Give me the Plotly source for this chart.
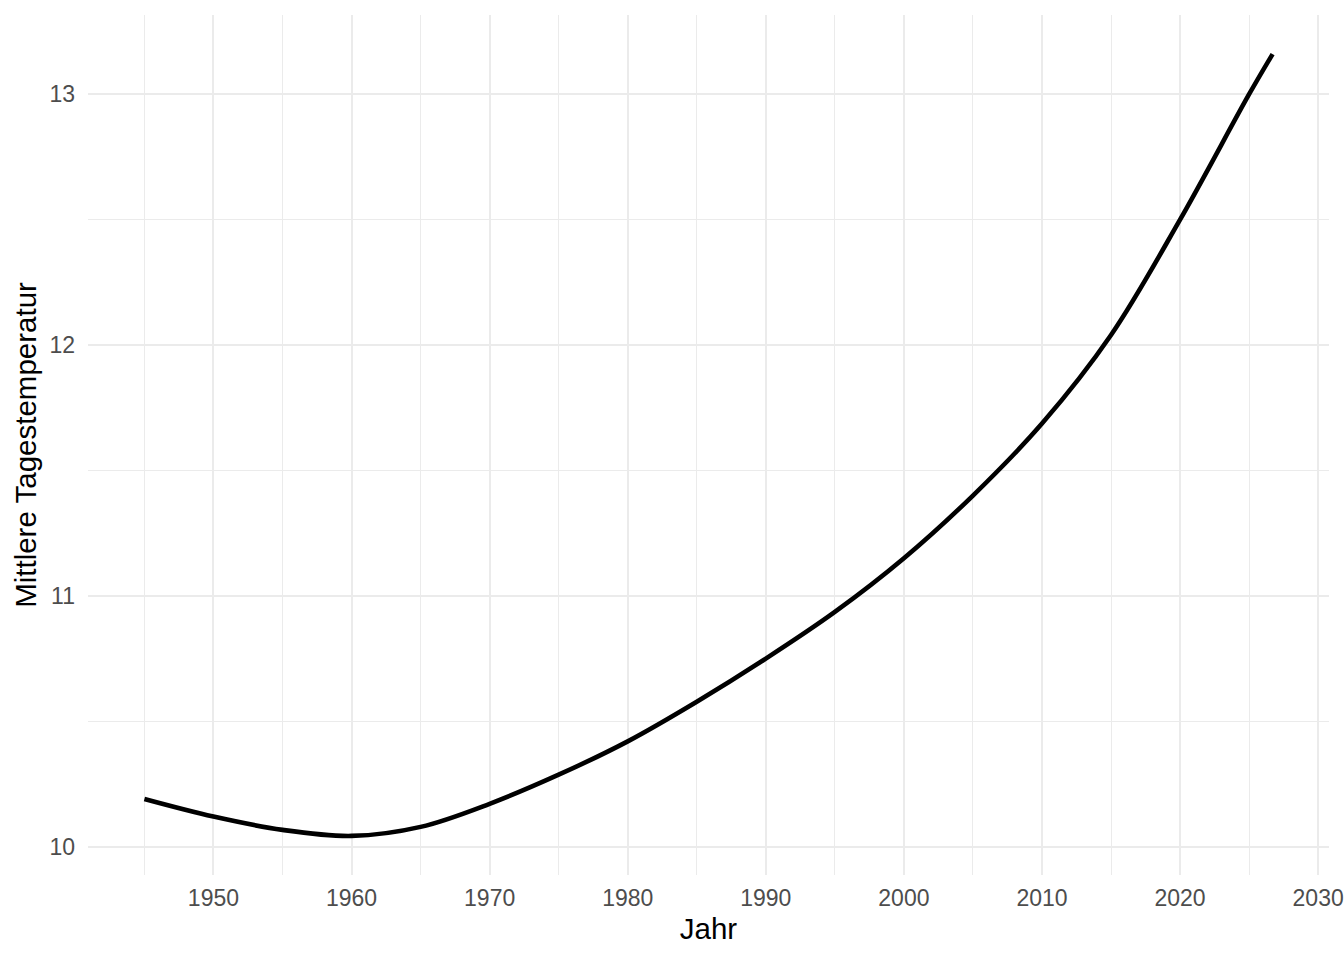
import plotly.graph_objects as go

# smoothed yearly mean
jahr = [1945, 1950, 1955, 1960, 1965, 1970, 1975, 1980, 1985, 1990,
        1995, 2000, 2005, 2010, 2015, 2020, 2025, 2026.7]
temperatur = [10.19, 10.12, 10.067, 10.043, 10.079, 10.171, 10.287, 10.42,
              10.578, 10.75, 10.936, 11.15, 11.40, 11.687, 12.04, 12.50,
              13.0, 13.16]

x_ticks = list(range(1950, 2031, 10))
y_ticks = [10, 11, 12, 13]

GRID = "#ebebeb"

fig = go.Figure()
fig.add_trace(go.Scatter(x=jahr, y=temperatur, mode="lines",
                         line=dict(color="black", width=4.6, shape="spline", smoothing=1),
                         showlegend=False, hoverinfo="x+y"))

# ggplot-style 5% expansion of the data range
xr = max(jahr) - min(jahr)
yr = max(temperatur) - min(temperatur)

fig.update_layout(
    width=1344, height=960,
    paper_bgcolor="white", plot_bgcolor="white",
    margin=dict(l=88, r=15, t=15, b=85, autoexpand=False),
    font=dict(family="Liberation Sans, Arial, sans-serif", color="black"),
    xaxis=dict(
        range=[min(jahr) - 0.05 * xr, max(jahr) + 0.05 * xr],
        tickvals=x_ticks, ticktext=[str(t) for t in x_ticks],
        showgrid=True, gridcolor=GRID, gridwidth=2.1,
        minor=dict(tick0=1945, dtick=5, showgrid=True, gridcolor=GRID, gridwidth=1.05),
        zeroline=False, showline=False, ticks="", automargin=False,
        ticklabeloverflow="allow",
        tickfont=dict(size=23, color="#4d4d4d"), ticklabelstandoff=7,
        title=dict(text="Jahr", font=dict(size=29.5, color="black"), standoff=8),
    ),
    yaxis=dict(
        range=[min(temperatur) - 0.05 * yr, max(temperatur) + 0.05 * yr],
        tickvals=y_ticks, ticktext=[str(t) for t in y_ticks],
        showgrid=True, gridcolor=GRID, gridwidth=2.1,
        minor=dict(tick0=10, dtick=0.5, showgrid=True, gridcolor=GRID, gridwidth=1.05),
        zeroline=False, showline=False, ticks="", automargin=False,
        tickfont=dict(size=23, color="#4d4d4d"), ticklabelstandoff=12,
        title=dict(text="Mittlere Tagestemperatur", font=dict(size=29.5, color="black"), standoff=4),
    ),
)

# drop the default 8px page margin so the 1344x960 figure fills the window exactly
fig.write_html("out.html", config={"displayModeBar": False},
               post_script="document.body.style.margin='0';document.body.style.overflow='hidden';")
